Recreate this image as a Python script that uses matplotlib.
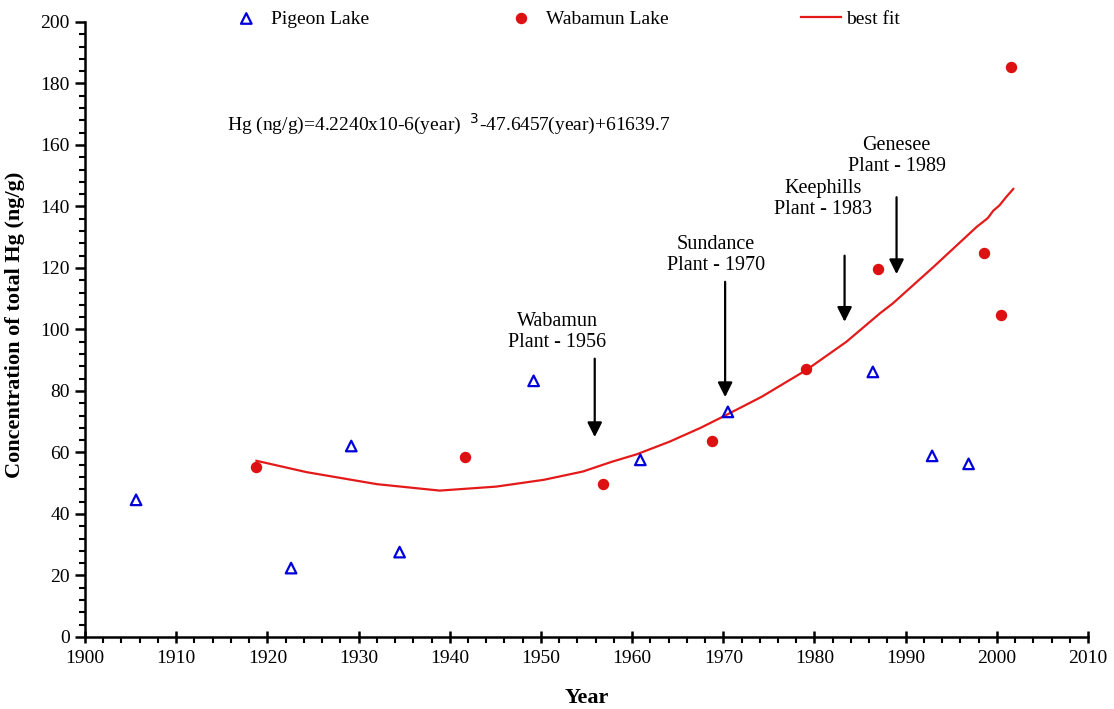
import numpy as np
import matplotlib
matplotlib.use("Agg")
import matplotlib.pyplot as plt
from matplotlib.ticker import MultipleLocator

# Pigeon Lake (open triangles)
pigeon_year = [1905.6, 1922.6, 1929.2, 1934.5, 1949.2, 1960.9, 1970.5, 1986.4, 1992.9, 1996.9]
pigeon_hg = [44.6, 22.4, 62.1, 27.6, 83.3, 57.6, 73.2, 86.2, 58.9, 56.3]

# Wabamun Lake (filled circles)
wabamun_year = [1918.8, 1941.7, 1956.8, 1968.8, 1979.1, 1986.95, 1998.6, 2000.4, 2001.5]
wabamun_hg = [55.4, 58.6, 49.7, 63.7, 87.2, 119.7, 124.9, 104.7, 185.4]

# best fit line
fit_year = [1918.8, 1924.3, 1932.0, 1938.9, 1945.1, 1950.3, 1954.6, 1957.8, 1960.5, 1964.1,
            1967.5, 1970.0, 1974.2, 1979.1, 1983.5, 1987.2, 1988.6, 1993.0, 1997.8, 1999.0,
            1999.6, 2000.3, 2001.0, 2001.8]
fit_hg = [57.3, 53.6, 49.7, 47.6, 48.9, 51.1, 53.8, 57.0, 59.4, 63.5,
          68.0, 71.7, 78.1, 86.8, 96.0, 105.3, 108.5, 120.2, 133.4, 136.2,
          138.6, 140.4, 143.0, 145.7]

# plant start-up annotations: label, arrow x, arrow top, arrow tip, text x, text y
plant_labels = ["Wabamun\nPlant - 1956", "Sundance\nPlant - 1970",
                "Keephills\nPlant - 1983", "Genesee\nPlant - 1989"]
arrow_x = [1955.9, 1970.2, 1983.3, 1989.0]
arrow_top = [90.5, 115.5, 124.0, 143.0]
arrow_tip = [65.0, 78.0, 102.5, 118.0]
label_x = [1951.8, 1969.2, 1980.9, 1989.0]
label_y = [92.8, 117.8, 135.8, 149.8]

serif = "Liberation Serif"

fig = plt.figure(figsize=(11.14, 7.09), dpi=100)
ax = fig.add_axes([0.0763, 0.1016, 0.9004, 0.8674])

ax.plot(fit_year, fit_hg, color="#e41a1a", lw=1.6, label="best fit", zorder=2)
ax.scatter(pigeon_year, pigeon_hg, marker="^", s=58, facecolors="none",
           edgecolors="#0000dd", linewidths=1.6, label="Pigeon Lake", zorder=3)
ax.scatter(wabamun_year, wabamun_hg, marker="o", s=52, color="#dd1111",
           label="Wabamun Lake", zorder=3)

for lab, xa, yt, yb, xt, yl in zip(plant_labels, arrow_x, arrow_top, arrow_tip, label_x, label_y):
    ax.annotate("", xy=(xa, yb), xytext=(xa, yt),
                arrowprops=dict(arrowstyle="-|>", color="black", lw=1.6,
                                mutation_scale=22, shrinkA=0, shrinkB=0))
    ax.text(xt, yl, lab, ha="center", va="bottom", family=serif, fontsize=14.5,
            linespacing=1.15)

ax.text(1915.6, 162.5, r"Hg (ng/g)=4.2240x10-6(year)  $^{3}$-47.6457(year)+61639.7",
        family=serif, fontsize=14, va="bottom")

ax.set_xlim(1900, 2010)
ax.set_ylim(0, 200)
ax.xaxis.set_major_locator(MultipleLocator(10))
ax.xaxis.set_minor_locator(MultipleLocator(2))
ax.yaxis.set_major_locator(MultipleLocator(20))
ax.yaxis.set_minor_locator(MultipleLocator(4))
ax.spines["top"].set_visible(False)
ax.spines["right"].set_visible(False)
ax.spines["left"].set_linewidth(1.8)
ax.spines["bottom"].set_linewidth(1.8)
ax.tick_params(axis="x", which="major", direction="inout", length=9, width=1.8, pad=5)
ax.tick_params(axis="x", which="minor", direction="out", length=4, width=1.5)
ax.tick_params(axis="y", which="major", direction="out", length=7, width=1.8, pad=4)
ax.tick_params(axis="y", which="minor", direction="out", length=4, width=1.5)
for t in ax.get_xticklabels() + ax.get_yticklabels():
    t.set_family(serif)
    t.set_fontsize(14)

ax.set_xlabel("Year", family=serif, fontweight="bold", fontsize=16, labelpad=15)
ax.set_ylabel("Concentration of total Hg (ng/g)", family=serif, fontweight="bold",
              fontsize=16)
ax.yaxis.set_label_coords(-0.060, 0.507)

h, l = ax.get_legend_handles_labels()
order = [1, 2, 0]
leg = ax.legend([h[i] for i in order], [l[i] for i in order], ncol=3, frameon=False,
                loc="upper left", bbox_to_anchor=(0.123, 1.048), columnspacing=6.78,
                handlelength=2.1, handletextpad=0.22, prop={"family": serif, "size": 14})

fig.savefig("out.png", dpi=100)
